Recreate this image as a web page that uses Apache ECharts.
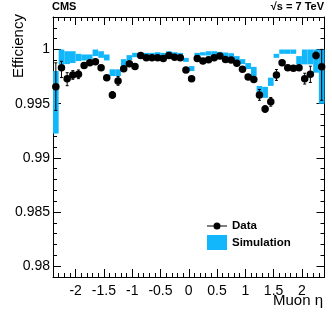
<!DOCTYPE html>
<html><head><meta charset="utf-8">
<script src="https://cdn.jsdelivr.net/npm/echarts@6/dist/echarts.min.js"></script>
<style>html,body{margin:0;padding:0;background:#fff}#c{width:332px;height:319px}</style>
</head><body><div id="c"></div>
<script>
// ---- data ----
const etaEdges = [-2.4,-2.3,-2.2,-2.1,-2.0,-1.9,-1.8,-1.7,-1.6,-1.5,-1.4,-1.3,-1.2,-1.1,-1.0,-0.9,-0.8,-0.7,-0.6,-0.5,-0.4,-0.3,-0.2,-0.1,0.0,
  0.1,0.2,0.3,0.4,0.5,0.6,0.7,0.8,0.9,1.0,1.1,1.2,1.3,1.4,1.5,1.6,1.7,1.8,1.9,2.0,2.1,2.2,2.3,2.4];
const dataEff = [0.99657,0.99831,0.99731,0.99765,0.99771,0.99853,0.99877,0.99886,0.99831,0.99740,0.99581,0.99710,
  0.99822,0.99868,0.99844,0.99945,0.99923,0.99923,0.99923,0.99918,0.99945,0.99929,0.99923,0.99810,
  0.99731,0.99918,0.99893,0.99905,0.99923,0.99939,0.99908,0.99902,0.99872,0.99817,0.99746,0.99722,
  0.99581,0.99451,0.99517,0.99765,0.99877,0.99831,0.99826,0.99831,0.99731,0.99771,0.99945,0.99841];
const dataErrUp = [0.0022,0.0006,0.00055,0.0004,0.0004,0.0002,0.0002,0.0002,0.0002,0.0002,0.0003,0.0004,
  0.00015,0.00015,0.00015,0.00015,0.00015,0.00015,0.00015,0.00015,0.00015,0.00015,0.00015,0.0002,
  0.0002,0.00015,0.00015,0.00015,0.00015,0.00015,0.00015,0.00015,0.0002,0.0002,0.0002,0.0002,
  0.0005,0.0003,0.0004,0.0005,0.0002,0.0002,0.0002,0.0002,0.0005,0.00075,0.0003,0.0016];
const dataErrDown = [0.0022,0.0009,0.00065,0.0004,0.0004,0.0002,0.0002,0.0002,0.0002,0.0002,0.0003,0.0004,
  0.00015,0.00015,0.00015,0.00015,0.00015,0.00015,0.00015,0.00015,0.00015,0.00015,0.00015,0.0002,
  0.0002,0.00015,0.00015,0.00015,0.00015,0.00015,0.00015,0.00015,0.0002,0.0002,0.0002,0.0002,
  0.0005,0.0003,0.0004,0.0005,0.0002,0.0002,0.0002,0.0002,0.0005,0.00075,0.0003,0.0031];
const simLow = [0.99224,0.99863,0.99865,0.99875,0.99893,0.99899,0.99908,0.99939,0.99923,0.99899,0.99755,0.99755,
  0.99847,0.99902,0.99929,0.99939,0.99939,0.99939,0.99939,0.99939,0.99945,0.99939,0.99939,0.99886,
  0.99801,0.99939,0.99945,0.99945,0.99945,0.99945,0.99939,0.99930,0.99893,0.99865,0.99820,0.99755,
  0.99557,0.99554,0.99664,0.99923,0.99960,0.99960,0.99960,0.99863,0.99863,0.99863,0.99786,0.99499];
const simHigh = [0.99801,1.0000,0.99984,0.99984,0.99960,0.99954,0.99954,1.0000,0.99984,0.99954,0.99817,0.99817,
  0.99911,0.99948,0.99969,0.99969,0.99969,0.99969,0.99975,0.99969,0.99984,0.99975,0.99969,0.99923,
  0.99847,0.99969,0.99975,0.99984,0.99984,0.99978,0.99972,0.99966,0.99939,0.99911,0.99875,0.99840,
  0.99664,0.99655,0.99740,0.99960,1.0000,1.0000,1.0000,0.99939,1.0000,1.0000,1.0000,1.0000];
const xMajorTicks = [-2,-1.5,-1,-0.5,0,0.5,1,1.5,2];
const yMajorTicks = [0.98,0.985,0.99,0.995,1.0];

// ---- chart ----
const font = '"Liberation Sans", Arial, sans-serif';
const simColor = '#12b6fb';
const chart = echarts.init(document.getElementById('c'), null, {renderer:'canvas'});

const binData = dataEff.map((v,i)=>[(etaEdges[i]+etaEdges[i+1])/2, v, v-dataErrDown[i], v+dataErrUp[i]]);
const simData = simLow.map((lo,i)=>[etaEdges[i], etaEdges[i+1], lo, simHigh[i]]);

function majorX(pos, showLabel){
  return {type:'value', min:-2.4, max:2.4, position:pos, gridIndex:0,
    axisLine:{show:true, onZero:false, lineStyle:{color:'#000', width:1}},
    axisTick:{show:true, inside:true, length:8, customValues:xMajorTicks, lineStyle:{color:'#000'}},
    axisLabel:{show:showLabel, customValues:xMajorTicks, color:'#000', fontSize:14, fontFamily:font, margin:7,
      formatter:v=>String(Math.round(v*10)/10)},
    splitLine:{show:false}};
}
function minorX(pos){
  return {type:'value', min:-2.4, max:2.4, interval:0.1, position:pos, gridIndex:0,
    axisLine:{show:false, onZero:false}, axisTick:{show:true, inside:true, length:4, lineStyle:{color:'#000'}},
    axisLabel:{show:false}, splitLine:{show:false}};
}
function majorY(pos, showLabel){
  return {type:'value', min:0.979, max:1.003, position:pos, gridIndex:0,
    axisLine:{show:true, onZero:false, lineStyle:{color:'#000', width:1}},
    axisTick:{show:true, inside:true, length:8, customValues:yMajorTicks, lineStyle:{color:'#000'}},
    axisLabel:{show:showLabel, customValues:yMajorTicks, color:'#000', fontSize:14, fontFamily:font, margin:3,
      formatter:v=>String(Math.round(v*1000)/1000)},
    splitLine:{show:false}};
}
function minorY(pos){
  return {type:'value', min:0.979, max:1.003, interval:0.001, position:pos, gridIndex:0,
    axisLine:{show:false, onZero:false}, axisTick:{show:true, inside:true, length:4, lineStyle:{color:'#000'}},
    axisLabel:{show:false}, splitLine:{show:false}};
}

const dataIcon = 'path://M0,3H20V4H0Z M13.5,3.5A3.5,3.5,0,1,1,6.5,3.5A3.5,3.5,0,1,1,13.5,3.5Z';

chart.setOption({
  animation:false,
  backgroundColor:'#fff',
  grid:{left:53, right:7.5, top:17, bottom:42, containLabel:false, outerBoundsMode:'none'},
  title:[
    {text:'CMS', left:52, top:1, padding:0, textStyle:{fontSize:11, fontWeight:'bold', fontFamily:font, color:'#000'}},
    {text:'√s = 7 TeV', right:8, top:1, padding:0, textStyle:{fontSize:11, fontWeight:'bold', fontFamily:font, color:'#000'}}
  ],
  graphic:[
    {type:'text', x:19, y:46, rotation:Math.PI/2,
     style:{text:'Efficiency', fill:'#000', font:'15px "Liberation Sans", Arial, sans-serif', textAlign:'center', textVerticalAlign:'middle'}},
    {type:'text', x:323, y:301,
     style:{text:'Muon η', fill:'#000', font:'15px "Liberation Sans", Arial, sans-serif', textAlign:'right', textVerticalAlign:'middle'}}
  ],
  legend:[
    {orient:'vertical', left:207, top:220, padding:0, itemWidth:20, itemHeight:7, itemGap:5, selectedMode:false,
     data:[{name:'Data', icon:dataIcon, itemStyle:{opacity:1}}],
     textStyle:{fontSize:11.5, fontWeight:'bold', fontFamily:font, color:'#000'}},
    {orient:'vertical', left:207, top:235, padding:0, itemWidth:20, itemHeight:15, itemGap:5, selectedMode:false,
     data:[{name:'Simulation', icon:'rect'}],
     textStyle:{fontSize:11.5, fontWeight:'bold', fontFamily:font, color:'#000'}}
  ],
  xAxis:[majorX('bottom', true), minorX('bottom'), majorX('top', false), minorX('top')],
  yAxis:[majorY('left', true), minorY('left'), majorY('right', false), minorY('right')],
  series:[
    {type:'custom', name:'Simulation', xAxisIndex:0, yAxisIndex:0, itemStyle:{color:simColor},
     encode:{x:[0,1], y:[2,3]}, data:simData, clip:true,
     renderItem:(params, api)=>{
       const p1 = api.coord([api.value(0), api.value(3)]);
       const p2 = api.coord([api.value(1), api.value(2)]);
       return {type:'rect', shape:{x:p1[0], y:p1[1], width:p2[0]-p1[0], height:p2[1]-p1[1]}, style:{fill:simColor}};
     }},
    {type:'custom', name:'errors', xAxisIndex:0, yAxisIndex:0, encode:{x:0, y:[2,3]}, data:binData, z:3,
     renderItem:(params, api)=>{
       const top = api.coord([api.value(0), api.value(3)]);
       const bot = api.coord([api.value(0), api.value(2)]);
       const st = {stroke:'#000', lineWidth:1};
       return {type:'group', children:[
         {type:'line', shape:{x1:top[0], y1:top[1], x2:bot[0], y2:bot[1]}, style:st},
         {type:'line', shape:{x1:top[0]-1.5, y1:top[1], x2:top[0]+1.5, y2:top[1]}, style:st},
         {type:'line', shape:{x1:bot[0]-1.5, y1:bot[1], x2:bot[0]+1.5, y2:bot[1]}, style:st}
       ]};
     }},
    {type:'scatter', name:'Data', xAxisIndex:0, yAxisIndex:0, symbol:'circle', symbolSize:7.5, z:4,
     itemStyle:{color:'#000', opacity:1}, data:binData.map(d=>[d[0], d[1]])}
  ]
});
</script></body></html>
